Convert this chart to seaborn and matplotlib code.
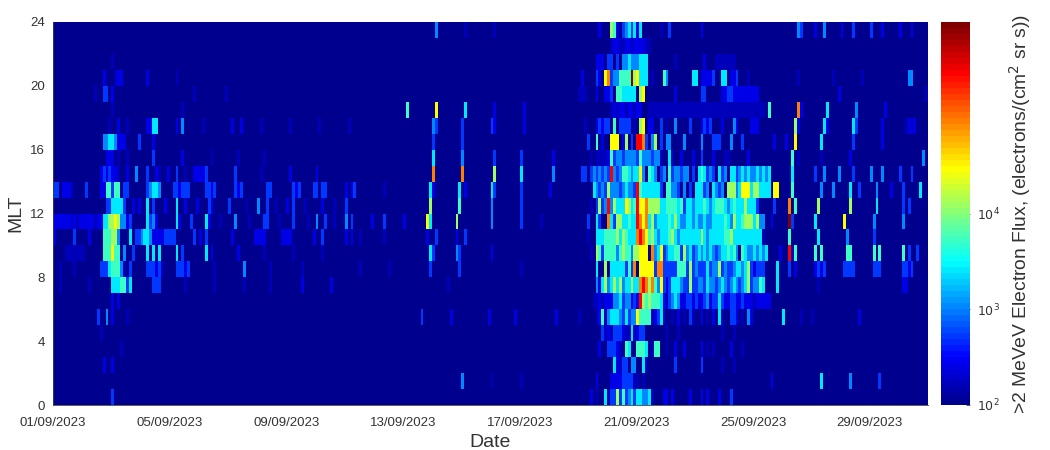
import numpy as np
import pandas as pd
import matplotlib
matplotlib.use("Agg")
import matplotlib.pyplot as plt
import seaborn as sns
from matplotlib.colors import LogNorm, LinearSegmentedColormap

level_flux = [100, 160, 270, 500, 1100, 2600, 5000, 13000, 30000, 90000, 300000, 900000]
n_days = 30
n_per_day = 10
date_ticks = ["01/09/2023", "05/09/2023", "09/09/2023", "13/09/2023", "17/09/2023",
              "21/09/2023", "25/09/2023", "29/09/2023"]
tick_days = [0, 4, 8, 12, 16, 20, 24, 28]
mlt_ticks = [0, 4, 8, 12, 16, 20, 24]

# one string per MLT bin: "start_column:levels" (10 columns per day, levels in hex)
mlt_23 = "131:4 141:1 151:1 187:2 191:76 193:2 195:3453 199:52 201:5 208:1 211:3 222:2 255:43 261:2 264:4 270:2 274:3 280:3 284:2 290:2 294:2"
mlt_22 = "191:1221122122 201:2211"
mlt_21 = "20:1 186:222 190:33 193:3 195:44544 200:4 201:555 213:1 223:2 227:1111111"
mlt_20 = "17:2 21:1 22:22 32:2 42:1 181:2 186:32 189:893 192:44 194:6666 198:b 199:78 201:555 205:1 209:64 219:55 222:2222 226:3 229:55 232:22 234:3 238:1 255:1 267:1 277:1 293:44"
mlt_19 = "14:1 17:3 18:3 20:2 48:1 59:1 180:111 186:2 189:223 193:66 195:5 196:5555 201:7 202:8 213:2 222:33 229:223322 235:2222222 269:2 299:1"
mlt_18 = "20:1 44:1 121:6 131:8 141:5 151:2 161:2 191:1212212 198:2121 201:2 204:1111111111111111111111111111111111111111 245:6 255:9 256:2 265:5 275:4 285:2"
mlt_17 = "19:1 22:2 25:1 32:2 33:2 34:55 42:2 44:4 51:1 61:2 64:2 71:1 81:1 91:1 101:1 130:4 131:3 140:3 150:3 151:2 161:2 182:1 186:2323 190:3 192:6 194:33 196:3 197:3 199:1 201:7 202:8 204:22 208:3 210:1 213:4 218:3 222:2323 229:2 233:4 234:2 239:2 240:22 254:7 255:2 264:5 265:2 274:5 275:3 284:2 292:1212"
mlt_16 = "17:44554 22:22 24:2 29:3 34:2 130:3 140:3 183:3 186:6 188:2 191:88 193:8 195:2 196:7 198:3 200:a 201:a9 203:3 205:47 208:3 210:44 216:4 222:4 226:333 232:4 236:3 247:2 251:2 254:8 263:5 274:3 284:2"
mlt_15 = "18:222 22:1 25:1 34:3 44:2 54:1 63:1 72:1 130:5 140:4 151:3 160:3 171:2 184:1 186:1111 190:2 191:6 192:3 193:44344 198:443 201:64 203:4 204:4344 208:1 211:5 212:1 215:2 219:2 222:3 226:2 230:11 238:2 253:6 255:1 263:1 273:2 298:4"
mlt_14 = "16:232322 22:1 25:2 28:4 32:3 35:2 36:1 39:2 42:3 45:1 48:2222 52:3 62:3 71:1 81:2 90:2 130:9 140:9 151:7 160:5 171:4 181:33 184:34343 189:43 191:a 192:4 193:3 194:4 195:66 197:5 198:4 199:55 201:8 202:4 204:65 206:4 208:3 209:4 211:6 212:3 213:44344 219:3 221:565 224:3 225:4 226:3 228:5 229:34 232:55 234:34 236:545445454 245:5 253:5 261:3 264:4 269:4 274:3 280:4 284:4 290:3 294:3"
mlt_13 = "0:33 3:222 6:1 11:3 16:22 18:66 20:3 21:66 24:33 32:3 33:455 36:4 41:332333 52:3323 62:323 73:33 82:323 89:33 92:33 100:2 102:23 113:1 129:5 130:2 139:5 141:2 150:5 151:3 160:3 170:2 185:54 187:343 190:7 191:44 193:4 194:34 196:5 197:44 199:3 200:a 201:65 203:55 205:555 208:3 210:6644 214:3 216:4 218:3 220:555 223:34 226:5 227:434 231:777 234:45 236:888 239:5 240:77 242:5555 246:1 247:88 253:6 263:4 267:4 273:5 276:3 282:4 287:2 291:3 297:5"
mlt_12 = "18:33 20:5555 24:3 27:2 29:2 32:5 34:3 38:2 42:5 45:2 49:2 53:3 54:2 60:3 66:1 70:4 73:3 76:1 80:2 82:3 86:1 92:2 96:1 100:3 129:7 139:6 150:4 160:3 184:1 186:37 188:34 190:a 191:47 193:55 195:5 196:8 197:7 198:56 200:a 201:889 204:7 205:777 208:55 210:666656 216:3 217:55455 222:56 224:5 225:45 227:66 229:6 230:54 232:56 234:55 236:5 237:7 238:5 239:5 240:5 241:3 247:3 252:9 254:6 262:7 273:7 282:5 291:3 293:3"
mlt_11 = "0:222222 6:1 7:2122 11:22212 16:2 17:55 19:7787 23:44 25:2 26:3 32:5 33:3 34:4 35:2 42:5 43:2 47:3 52:5 53:2 57:1 62:4 67:1 72:33 77:1 82:3 87:1 90:4 93:3 96:1 100:4 102:3 109:2 113:3 120:2 128:85 138:7 150:4 160:3 167:1 183:3 186:5 187:3 190:9 191:5 192:3 193:77 195:5 196:56 198:5 199:5 200:a 201:989 204:5 205:7 206:4 207:555565 213:7 214:54 216:4 217:55454 222:4 223:54 225:4 226:55556 231:5 232:4 233:7 234:55 236:6 237:777 240:5 241:7 242:44 246:2 252:b 253:3 261:5 271:8 281:4 291:4"
mlt_10 = "0:2 7:3 12:2 17:666 20:77 22:4 26:5 28:33 30:4554 34:2222 38:333 41:3 48:3 50:2 52:3 61:2 69:2222 78:2222 89:2 92:3 100:2 102:2 105:1 113:1 128:2 131:3 138:2 141:3 183:1 186:5556 190:6667 194:5 195:7 196:65 198:55 200:9 201:a98 204:6 205:7 206:5 207:4 208:555 211:6 212:7 213:5 214:4 215:5555555 222:7 223:5 224:4 225:5 226:555566 232:7 233:555 236:5555555 243:1 252:6 262:5 272:4 281:3"
mlt_09 = "4:1111111 17:666 20:8 21:66 24:4 27:3 32:5 34:5 36:5 42:5 44:3 52:5 54:2 63:2 72:1 82:1 92:1 129:5 130:3 138:4 139:3 150:2 184:1 186:7 187:6 188:3 189:6666 193:4 194:6766 198:4 199:7 200:77 201:888 205:9 206:45 208:8 209:3 210:4 211:5566 215:3 216:7 217:4 218:5 219:3 220:454545 226:4 227:3 228:4 229:55656 234:4 236:6 237:5 238:4 239:454545 249:2 252:a 253:1 254:6 261:6 263:6 272:66 281:6 283:6 291:6 293:3 296:3"
mlt_08 = "2:1 7:1 16:333 19:5 20:666 23:4 24:1 26:3 32:33323 37:1 42:33323 55:1 65:4 74:1 85:1 105:1 115:1 129:3 139:3 160:1 186:5 189:7 191:5555 195:5 196:3 197:6 198:3 199:9 201:888 204:88 206:3 207:9 208:9 209:3333 213:3 214:666 217:3 218:7 219:3 220:4 221:3 222:3 223:3 224:5 225:3 226:4 227:4 228:7 229:34 231:33 233:4 234:5 235:5 236:4 237:5 238:7 239:3 240:2 241:333 248:5 252:3 254:2 261:2323 271:3333 281:333 291:3323"
mlt_07 = "2:1 12:1 20:555 23:66 25:3 26:5 34:333 45:1 55:1 65:1 74:1 85:2 95:2 135:1 186:4 187:2 188:5 189:7 190:4 191:5 192:7 193:5 194:7 195:4 196:5 197:5 198:7 199:5 200:5 201:9a9 204:7 205:9 206:6 207:4 208:8 209:3 210:2 211:3 212:555 215:4 216:3 217:3 218:7 219:3 220:3 221:4 222:4 223:3 224:5 225:4 226:4 227:3 228:4 229:5 230:4 231:3 232:4 233:5 234:4 235:3 236:4 237:5 238:7 239:3 240:4 241:4 242:6 243:5 248:5 262:1 291:22"
mlt_06 = "20:2 22:2 185:11 187:21222 192:4 193:45 195:3 196:44 198:2 199:3 200:2 201:a 202:7676 206:66 208:5 209:2 210:1 211:3 212:454 215:2 216:2 217:33 219:2 220:3 221:2 222:2 223:3 224:4 225:2 226:3 227:3 228:5 229:3 230:2 231:2 232:3 233:3 234:2 235:2 236:3 237:2 238:2 239:2 240:1 241:22222"
mlt_05 = "15:3 18:4 20:2 25:1 126:3 136:2 149:2 158:2 172:2 180:1 186:1 187:2 188:6 189:1 190:4 191:5554 195:3 196:5 197:3 198:4 199:4 200:8 201:6666 205:1 206:2 207:3 208:5 209:1 212:1 214:2 216:1 218:3 219:1 222:2 224:1 226:2 228:5 229:1 232:33 234:2 236:1 238:4 239:2 250:5 256:1 260:1 276:2"
mlt_04 = "16:1 188:3 189:1 190:2 191:1 192:333 195:2 196:1 197:1 198:5 199:1 200:2 201:33 210:1 214:1 229:1 233:1"
mlt_03 = "23:1 187:2 190:333 193:2 194:1 196:6 197:5 200:6 201:66 203:5 205:1 206:66 210:1 213:2 216:2 222:2 224:1 226:1 232:2 236:1"
mlt_02 = "17:2 20:2 192:5 193:2 194:1 195:3 196:3 198:4 199:4 202:5 203:1 213:3 222:3 229:1 233:1"
mlt_01 = "140:4 150:1 160:1 186:2 191:2222 195:3333 199:1 200:1 202:1 246:2 263:5 273:4 283:3"
mlt_00 = "20:3 184:2 186:1 189:5 190:1 191:3 192:3 193:7 194:3 195:6 196:3 197:4 198:5 199:3 200:5 201:5 202:4 203:45 205:1 209:2 210:2 212:2 218:2 222:2 224:2 228:2 232:3"

mlt_rows = [mlt_00, mlt_01, mlt_02, mlt_03, mlt_04, mlt_05, mlt_06, mlt_07, mlt_08, mlt_09,
            mlt_10, mlt_11, mlt_12, mlt_13, mlt_14, mlt_15, mlt_16, mlt_17, mlt_18, mlt_19,
            mlt_20, mlt_21, mlt_22, mlt_23]

n_cols = n_days * n_per_day
grid = np.full((24, n_cols), float(level_flux[0]))
for r, row in enumerate(mlt_rows):
    for token in row.split():
        start, digits = token.split(":")
        for k, ch in enumerate(digits):
            if int(start) + k < n_cols:
                grid[r, int(start) + k] = level_flux[int(ch, 16)]
flux = pd.DataFrame(grid, index=range(24), columns=range(n_cols))

sns.set_theme(style="white")
plt.rcParams["font.family"] = ["Liberation Sans", "DejaVu Sans"]

# MATLAB-style jet, 64 steps
jet64 = LinearSegmentedColormap.from_list(
    "jet64",
    [(0, "#00008F"), (0.12, "#0000FF"), (0.37, "#00FFFF"), (0.62, "#FFFF00"),
     (0.87, "#FF0000"), (1, "#800000")], N=64)

fig = plt.figure(figsize=(10.5, 4.5), dpi=100)
W, H = 1050, 450
ax = fig.add_axes([53 / W, 1 - 405 / H, 875 / W, 383 / H])
cax = fig.add_axes([941 / W, 1 - 405 / H, 29 / W, 383 / H])

sns.heatmap(flux, ax=ax, cbar_ax=cax, cmap=jet64, norm=LogNorm(vmin=1e2, vmax=1e6),
            xticklabels=False, yticklabels=False, rasterized=True)
ax.set_ylim(0, 24)
ax.set_xlim(0, n_cols)
ax.set_xticks([d * n_per_day for d in tick_days])
ax.set_xticklabels(date_ticks, rotation=0, fontsize=9.5, color="#333333")
ax.set_yticks(mlt_ticks)
ax.set_yticklabels([str(m) for m in mlt_ticks], rotation=0, fontsize=9.5, color="#333333")
ax.tick_params(axis="x", length=3, width=0.6, direction="in", color="#404040", pad=9)
ax.tick_params(axis="y", length=3, width=0.6, direction="in", color="#404040", pad=6)
ax.set_xlabel("Date", fontsize=14, color="#333333", labelpad=3)
ax.set_ylabel("MLT", fontsize=14, color="#333333", labelpad=4)
for name, sp in ax.spines.items():
    sp.set_visible(name in ("left", "bottom"))
    sp.set_linewidth(0.6)
    sp.set_color("#404040")

cax.set_yscale("log")
cax.set_yticks([1e2, 1e3, 1e4])
cax.set_yticklabels(["$10^{2}$", "$10^{3}$", "$10^{4}$"], fontsize=9, color="#333333")
cax.minorticks_off()
cax.tick_params(axis="y", length=3, width=0.6, direction="in", color="#404040", pad=5, right=True, left=False)
cax.set_ylabel(">2 MeVeV Electron Flux, (electrons/(cm$^2$ sr s))", fontsize=13.9,
               color="#333333", labelpad=5, rotation=90)
cax.yaxis.set_label_position("right")

fig.savefig("out.png", dpi=100)
